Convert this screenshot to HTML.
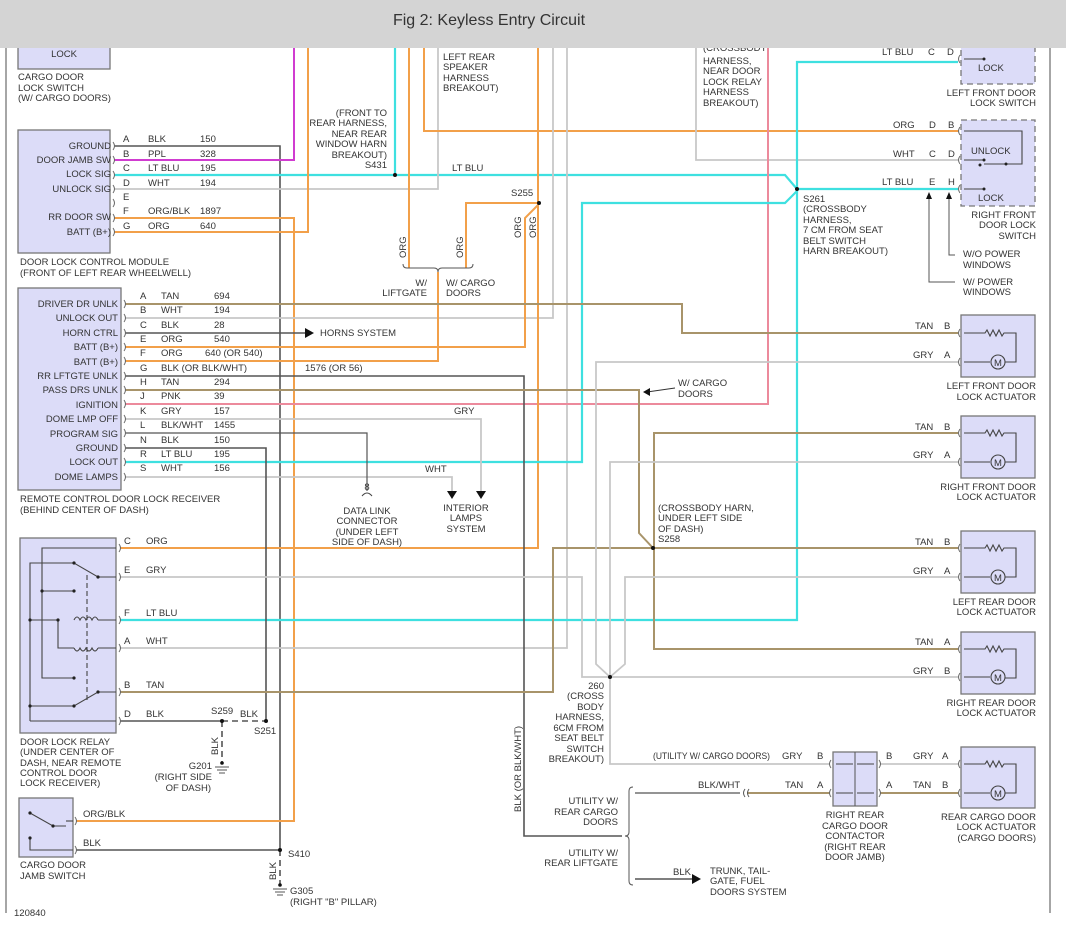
<!DOCTYPE html>
<html><head><meta charset="utf-8"><style>
html,body{margin:0;padding:0;background:#fff;}
svg{display:block;}
text{font-family:"Liberation Sans",sans-serif;font-size:9.5px;fill:#333;}
.t{font-size:16px;fill:#333;}
.bx{fill:#dcdcf8;stroke:#777;stroke-width:1.3;}
.dbx{fill:#dcdcf8;stroke:#777;stroke-width:1.3;stroke-dasharray:6 4;}
.blk{stroke:#555;fill:none;stroke-width:1.6;}
.org{stroke:#f2a04a;fill:none;stroke-width:2;}
.cy{stroke:#3ee0e0;fill:none;stroke-width:2.2;}
.gy{stroke:#c8c8c8;fill:none;stroke-width:1.8;}
.tan{stroke:#a8946a;fill:none;stroke-width:2;}
.ppl{stroke:#d03cd0;fill:none;stroke-width:2;}
.pnk{stroke:#ec8a9c;fill:none;stroke-width:2;}
.in{stroke:#444;fill:none;stroke-width:1.1;}
.r{text-anchor:end;}
.m{text-anchor:middle;}
.s{font-size:9px;}
</style></head><body>
<svg width="1066" height="928" viewBox="0 0 1066 928" xmlns="http://www.w3.org/2000/svg">
<line x1="6" y1="48" x2="6" y2="913" stroke="#777" stroke-width="1.3"/>
<line x1="1050" y1="48" x2="1050" y2="913" stroke="#777" stroke-width="1.3"/>

<!-- WIRES -->
<polyline class="blk" points="114,146 280,146 280,850"/>
<polyline class="ppl" points="114,160 294,160 294,40"/>
<polyline class="cy" points="114,175 395,175 785,175 797,189"/>
<polyline class="gy" points="114,189 438,189 438,40"/>
<polyline class="org" points="114,218 294,218 294,821 76,821"/>
<polyline class="org" points="114,232 308,232 308,40"/>
<line class="cy" x1="395" y1="40" x2="395" y2="175"/>
<line class="org" x1="409" y1="40" x2="409" y2="268"/>
<polyline class="org" points="424,40 424,131 958,131"/>
<polyline class="gy" points="553,40 553,318 125,318"/>
<polyline class="gy" points="567,40 567,648 120,648"/>
<polyline class="gy" points="696,40 696,160 958,160"/>
<polyline class="pnk" points="768,40 768,404 125,404"/>
<polyline class="org" points="538,40 538,548 120,548"/>
<polyline class="org" points="466,268 466,203 538,203"/>
<polyline class="org" points="125,347 525,347 525,218 538,205"/>
<polyline class="org" points="125,361 438,361 438,272"/>
<path d="M403,264 q0,4 4,4 h27 q4,0 4,4 q0,-4 4,-4 h27 q4,0 4,-4" fill="none" stroke="#555" stroke-width="1"/>
<polyline class="cy" points="958,62 797,62 797,620 120,620"/>
<line class="cy" x1="797" y1="189" x2="958" y2="189"/>
<polyline class="cy" points="125,462 582,462 582,203 785,203 797,191"/>
<polyline class="tan" points="125,304 682,304 682,333 958,333"/>
<line class="blk" x1="125" y1="333" x2="305" y2="333"/>
<polygon points="305,328 314,333 305,338" fill="#111"/>
<polyline class="blk" points="125,376 524,376 524,836 622,836"/>
<polyline class="tan" points="125,390 639,390 639,533 653,548"/>
<polyline class="gy" points="125,419 481,419 481,492"/>
<polygon points="476,491 486,491 481,499" fill="#111"/>
<polyline class="gy" points="125,477 452,477 452,492"/>
<polygon points="447,491 457,491 452,499" fill="#111"/>
<polyline class="blk" points="125,433 367,433 367,491" style="stroke-width:1.2"/>
<path d="M362,496 q5,-6 10,0" fill="none" stroke="#444" stroke-width="1"/>
<polyline class="blk" points="125,448 266,448 266,721"/>
<polyline class="gy" points="120,577 582,577 582,677 610,677"/>
<polyline class="tan" points="120,692 553,692 553,548 958,548"/>
<polyline class="tan" points="958,433 654,433 654,649 958,649"/>
<polyline class="gy" points="958,362 596,362 596,664 610,677"/>
<polyline class="gy" points="958,462 610,462 610,677"/>
<polyline class="gy" points="958,577 625,577 625,664 610,677"/>
<line class="gy" x1="610" y1="677" x2="958" y2="677"/>
<polyline class="gy" points="610,677 610,764 830,764"/>
<line class="gy" x1="880" y1="764" x2="958" y2="764"/>
<line class="tan" x1="747" y1="793" x2="830" y2="793"/>
<line class="tan" x1="880" y1="793" x2="958" y2="793"/>
<line class="blk" x1="635" y1="793" x2="740" y2="793" style="stroke-width:1.3"/>
<path d="M745,789 q-3,4 0,8 M749,789 q-3,4 0,8" fill="none" stroke="#555"/>
<path d="M633,787 q-4,0 -4,4 v41 q0,4 -4,4 q4,0 4,4 v41 q0,4 4,4" fill="none" stroke="#555"/>
<line class="blk" x1="635" y1="879" x2="692" y2="879"/>
<polygon points="692,874 701,879 692,884" fill="#111"/>
<polyline class="blk" points="120,721 222,721"/>
<line x1="222" y1="721" x2="266" y2="721" stroke="#555" stroke-width="1.6" stroke-dasharray="6 4"/>
<line x1="222" y1="721" x2="222" y2="762" stroke="#555" stroke-width="1.6" stroke-dasharray="6 4"/>
<line class="blk" x1="76" y1="850" x2="280" y2="850"/>
<line x1="280" y1="850" x2="280" y2="884" stroke="#555" stroke-width="1.6" stroke-dasharray="6 4"/>
<g stroke="#555" stroke-width="1"><line x1="215" y1="767" x2="229" y2="767"/><line x1="217" y1="770" x2="227" y2="770"/><line x1="219" y1="773" x2="225" y2="773"/>
<line x1="273" y1="889" x2="287" y2="889"/><line x1="275" y1="892" x2="285" y2="892"/><line x1="277" y1="895" x2="283" y2="895"/></g>
<polyline class="blk" points="929,198 929,282 955,282" style="stroke-width:1"/>
<polygon points="926,199 932,199 929,192" fill="#111"/>
<polyline class="blk" points="949,198 949,255 955,255" style="stroke-width:1"/>
<polygon points="946,199 952,199 949,192" fill="#111"/>
<line x1="675" y1="388" x2="647" y2="392" stroke="#333" stroke-width="1"/>
<polygon points="643,392 650,388 650,396" fill="#111"/>

<g fill="#111"><circle cx="395" cy="175" r="2"/><circle cx="539" cy="203" r="2"/><circle cx="797" cy="189" r="2"/>
<circle cx="653" cy="548" r="2"/><circle cx="610" cy="677" r="2"/><circle cx="222" cy="721" r="2"/><circle cx="266" cy="721" r="2"/><circle cx="280" cy="850" r="2"/><circle cx="222" cy="763" r="1.8"/><circle cx="280" cy="885" r="1.8"/></g>

<!-- pin connector marks -->
<g fill="none" stroke="#666" stroke-width="1">
<path d="M113,142 q3,4 0,8 M113,156 q3,4 0,8 M113,171 q3,4 0,8 M113,185 q3,4 0,8 M113,199 q3,4 0,8 M113,214 q3,4 0,8 M113,228 q3,4 0,8"/>
<path d="M124,300 q3,4 0,8 M124,314 q3,4 0,8 M124,329 q3,4 0,8 M124,343 q3,4 0,8 M124,357 q3,4 0,8 M124,372 q3,4 0,8 M124,386 q3,4 0,8 M124,400 q3,4 0,8 M124,415 q3,4 0,8 M124,429 q3,4 0,8 M124,444 q3,4 0,8 M124,458 q3,4 0,8 M124,473 q3,4 0,8"/>
<path d="M119,544 q3,4 0,8 M119,573 q3,4 0,8 M119,616 q3,4 0,8 M119,644 q3,4 0,8 M119,688 q3,4 0,8 M119,717 q3,4 0,8 M75,817 q3,4 0,8 M75,846 q3,4 0,8"/>
<path d="M960,55 q-3,4 0,8 M960,127 q-3,4 0,8 M960,156 q-3,4 0,8 M960,185 q-3,4 0,8 M960,329 q-3,4 0,8 M960,358 q-3,4 0,8 M960,429 q-3,4 0,8 M960,458 q-3,4 0,8 M960,544 q-3,4 0,8 M960,573 q-3,4 0,8 M960,645 q-3,4 0,8 M960,673 q-3,4 0,8 M960,760 q-3,4 0,8 M960,789 q-3,4 0,8"/>
<path d="M831,760 q-3,4 0,8 M831,789 q-3,4 0,8 M879,760 q3,4 0,8 M879,789 q3,4 0,8"/>
</g>

<!-- BOXES -->
<rect class="bx" x="18" y="40" width="92" height="29"/>
<text class="m" x="64" y="57">LOCK</text>
<rect class="bx" x="18" y="130" width="92" height="123"/>
<rect class="bx" x="18" y="288" width="103" height="202"/>
<rect class="bx" x="20" y="538" width="96" height="195"/>
<rect class="bx" x="19" y="798" width="54" height="59"/>
<rect class="dbx" x="961" y="40" width="74" height="44"/>
<rect class="dbx" x="961" y="120" width="74" height="86"/>
<rect class="bx" x="961" y="315" width="74" height="62"/>
<rect class="bx" x="961" y="416" width="74" height="62"/>
<rect class="bx" x="961" y="531" width="74" height="62"/>
<rect class="bx" x="961" y="632" width="74" height="62"/>
<rect class="bx" x="961" y="747" width="74" height="61"/>
<rect class="bx" x="833" y="752" width="44" height="54"/>
<line x1="855" y1="752" x2="855" y2="806" stroke="#555"/>

<g class="in">
<polyline points="116,548 42,548 42,678 74,678"/>
<line x1="42" y1="591" x2="74" y2="591"/>
<polyline points="30,721 30,563 74,563 98,577 116,577"/>
<polyline points="30,620 58,620 58,648 74,648"/>
<line x1="98" y1="620" x2="116" y2="620"/><line x1="98" y1="648" x2="116" y2="648"/>
<path d="M74,620 q3,-6 6,0 q3,-6 6,0 q3,-6 6,0 q3,-6 6,0 M74,648 q3,6 6,0 q3,6 6,0 q3,6 6,0 q3,6 6,0"/>
<polyline points="30,706 74,706 98,692 116,692"/>
<line x1="30" y1="721" x2="116" y2="721"/>
<line x1="87" y1="575" x2="87" y2="702" stroke-dasharray="5 3"/>
<polyline points="30,813 53,826 66,826"/><line x1="66" y1="821" x2="73" y2="821"/>
<polyline points="30,838 30,850 73,850"/>
</g>
<g fill="#222"><circle cx="74" cy="563" r="1.6"/><circle cx="74" cy="591" r="1.6"/><circle cx="42" cy="591" r="1.6"/><circle cx="74" cy="678" r="1.6"/><circle cx="74" cy="706" r="1.6"/><circle cx="98" cy="577" r="1.6"/><circle cx="98" cy="692" r="1.6"/><circle cx="30" cy="620" r="1.6"/><circle cx="58" cy="620" r="1.6"/><circle cx="30" cy="706" r="1.6"/><circle cx="30" cy="813" r="1.6"/><circle cx="53" cy="826" r="1.6"/><circle cx="30" cy="838" r="1.6"/></g>

<g class="in">
<polyline points="964,59 984,59"/>
<polyline points="964,131 1022,131 1022,164 984,164"/><line x1="964" y1="160" x2="984" y2="160"/><line x1="964" y1="189" x2="984" y2="189"/>
</g>
<g fill="#222"><circle cx="984" cy="59" r="1.5"/><circle cx="984" cy="160" r="1.5"/><circle cx="984" cy="189" r="1.5"/><circle cx="980" cy="165" r="1.5"/><circle cx="1006" cy="164" r="1.5"/></g>
<text x="978" y="71">LOCK</text><text x="971" y="154">UNLOCK</text><text x="978" y="201">LOCK</text>

<g class="in">
<path d="M964,333 h21 l2,-3 l3,6 l3,-6 l3,6 l3,-6 l3,6 l2,-3 h12 v29 h-14 M964,362 h26"/>
<path d="M964,433 h21 l2,-3 l3,6 l3,-6 l3,6 l3,-6 l3,6 l2,-3 h12 v29 h-14 M964,462 h26"/>
<path d="M964,548 h21 l2,-3 l3,6 l3,-6 l3,6 l3,-6 l3,6 l2,-3 h12 v29 h-14 M964,577 h26"/>
<path d="M964,649 h21 l2,-3 l3,6 l3,-6 l3,6 l3,-6 l3,6 l2,-3 h12 v29 h-14 M964,677 h26"/>
<path d="M964,764 h21 l2,-3 l3,6 l3,-6 l3,6 l3,-6 l3,6 l2,-3 h12 v29 h-14 M964,793 h26"/>
<circle cx="998" cy="362" r="7" fill="#dcdcf8"/><circle cx="998" cy="462" r="7" fill="#dcdcf8"/><circle cx="998" cy="577" r="7" fill="#dcdcf8"/><circle cx="998" cy="677" r="7" fill="#dcdcf8"/><circle cx="998" cy="793" r="7" fill="#dcdcf8"/>
<path d="M836,764 h17 M857,764 h17 M836,793 h17 M857,793 h17"/>
</g>
<g style="font-size:11px" class="m"><text x="998" y="366">M</text><text x="998" y="466">M</text><text x="998" y="581">M</text><text x="998" y="681">M</text><text x="998" y="797">M</text></g>

<!-- LABELS -->
<text x="18" y="80">CARGO DOOR</text><text x="18" y="91">LOCK SWITCH</text><text x="18" y="101">(W/ CARGO DOORS)</text>
<g class="r s"><text x="111" y="149">GROUND</text><text x="111" y="163">DOOR JAMB SW</text><text x="111" y="177">LOCK SIG</text><text x="111" y="192">UNLOCK SIG</text><text x="111" y="220">RR DOOR SW</text><text x="111" y="235">BATT (B+)</text></g>
<text x="123" y="142">A</text><text x="123" y="157">B</text><text x="123" y="171">C</text><text x="123" y="186">D</text><text x="123" y="200">E</text><text x="123" y="214">F</text><text x="123" y="229">G</text>
<text x="148" y="142">BLK</text><text x="148" y="157">PPL</text><text x="148" y="171">LT BLU</text><text x="148" y="186">WHT</text><text x="148" y="214">ORG/BLK</text><text x="148" y="229">ORG</text>
<text x="200" y="142">150</text><text x="200" y="157">328</text><text x="200" y="171">195</text><text x="200" y="186">194</text><text x="200" y="214">1897</text><text x="200" y="229">640</text>
<text x="20" y="265">DOOR LOCK CONTROL MODULE</text><text x="20" y="276">(FRONT OF LEFT REAR WHEELWELL)</text>
<g class="r s"><text x="118" y="307">DRIVER DR UNLK</text><text x="118" y="321">UNLOCK OUT</text><text x="118" y="336">HORN CTRL</text><text x="118" y="350">BATT (B+)</text><text x="118" y="365">BATT (B+)</text><text x="118" y="379">RR LFTGTE UNLK</text><text x="118" y="393">PASS DRS UNLK</text><text x="118" y="408">IGNITION</text><text x="118" y="422">DOME LMP OFF</text><text x="118" y="437">PROGRAM SIG</text><text x="118" y="451">GROUND</text><text x="118" y="465">LOCK OUT</text><text x="118" y="480">DOME LAMPS</text></g>
<g><text x="140" y="299">A</text><text x="140" y="313">B</text><text x="140" y="328">C</text><text x="140" y="342">E</text><text x="140" y="356">F</text><text x="140" y="371">G</text><text x="140" y="385">H</text><text x="140" y="399">J</text><text x="140" y="414">K</text><text x="140" y="428">L</text><text x="140" y="443">N</text><text x="140" y="457">R</text><text x="140" y="471">S</text></g>
<g><text x="161" y="299">TAN</text><text x="161" y="313">WHT</text><text x="161" y="328">BLK</text><text x="161" y="342">ORG</text><text x="161" y="356">ORG</text><text x="161" y="371">BLK (OR BLK/WHT)</text><text x="161" y="385">TAN</text><text x="161" y="399">PNK</text><text x="161" y="414">GRY</text><text x="161" y="428">BLK/WHT</text><text x="161" y="443">BLK</text><text x="161" y="457">LT BLU</text><text x="161" y="471">WHT</text></g>
<g><text x="214" y="299">694</text><text x="214" y="313">194</text><text x="214" y="328">28</text><text x="214" y="342">540</text><text x="205" y="356">640 (OR 540)</text><text x="214" y="385">294</text><text x="214" y="399">39</text><text x="214" y="414">157</text><text x="214" y="428">1455</text><text x="214" y="443">150</text><text x="214" y="457">195</text><text x="214" y="471">156</text></g>
<text x="305" y="371">1576 (OR 56)</text>
<text x="320" y="336">HORNS SYSTEM</text>
<text x="454" y="414">GRY</text><text x="425" y="472">WHT</text>
<text class="m" x="367" y="490">8</text>
<g class="m"><text x="367" y="514">DATA LINK</text><text x="367" y="524">CONNECTOR</text><text x="367" y="535">(UNDER LEFT</text><text x="367" y="545">SIDE OF DASH)</text>
<text x="466" y="511">INTERIOR</text><text x="466" y="521">LAMPS</text><text x="466" y="532">SYSTEM</text></g>
<text x="20" y="502">REMOTE CONTROL DOOR LOCK RECEIVER</text><text x="20" y="513">(BEHIND CENTER OF DASH)</text>
<text x="124" y="544">C</text><text x="146" y="544">ORG</text><text x="124" y="573">E</text><text x="146" y="573">GRY</text><text x="124" y="616">F</text><text x="146" y="616">LT BLU</text><text x="124" y="644">A</text><text x="146" y="644">WHT</text><text x="124" y="688">B</text><text x="146" y="688">TAN</text><text x="124" y="717">D</text><text x="146" y="717">BLK</text>
<text x="211" y="714">S259</text><text x="240" y="717">BLK</text><text x="254" y="734">S251</text>
<text transform="translate(218,755) rotate(-90)">BLK</text>
<text class="r" x="212" y="769">G201</text><text class="r" x="212" y="780">(RIGHT SIDE</text><text class="r" x="211" y="791">OF DASH)</text>
<text x="20" y="745">DOOR LOCK RELAY</text><text x="20" y="755">(UNDER CENTER OF</text><text x="20" y="766">DASH, NEAR REMOTE</text><text x="20" y="776">CONTROL DOOR</text><text x="20" y="786">LOCK RECEIVER)</text>
<text x="83" y="817">ORG/BLK</text><text x="83" y="846">BLK</text>
<text x="20" y="868">CARGO DOOR</text><text x="20" y="879">JAMB SWITCH</text>
<text x="288" y="857">S410</text><text transform="translate(276,880) rotate(-90)">BLK</text>
<text x="290" y="894">G305</text><text x="290" y="905">(RIGHT "B" PILLAR)</text>
<text x="14" y="916">120840</text>
<text x="443" y="60">LEFT REAR</text><text x="443" y="70">SPEAKER</text><text x="443" y="81">HARNESS</text><text x="443" y="91">BREAKOUT)</text>
<g class="r"><text x="387" y="116">(FRONT TO</text><text x="387" y="126">REAR HARNESS,</text><text x="387" y="137">NEAR REAR</text><text x="387" y="147">WINDOW HARN</text><text x="387" y="158">BREAKOUT)</text><text x="387" y="168">S431</text></g>
<text x="452" y="171">LT BLU</text>
<text x="511" y="196">S255</text>
<text transform="translate(406,258) rotate(-90)">ORG</text><text transform="translate(463,258) rotate(-90)">ORG</text><text transform="translate(521,238) rotate(-90)">ORG</text><text transform="translate(536,238) rotate(-90)">ORG</text>
<text class="r" x="427" y="286">W/</text><text class="r" x="427" y="296">LIFTGATE</text><text x="446" y="286">W/ CARGO</text><text x="446" y="296">DOORS</text>
<text x="703" y="51">(CROSSBODY</text><text x="703" y="64">HARNESS,</text><text x="703" y="74">NEAR DOOR</text><text x="703" y="85">LOCK RELAY</text><text x="703" y="95">HARNESS</text><text x="703" y="106">BREAKOUT)</text>
<text x="803" y="202">S261</text><text x="803" y="212">(CROSSBODY</text><text x="803" y="223">HARNESS,</text><text x="803" y="233">7 CM FROM SEAT</text><text x="803" y="244">BELT SWITCH</text><text x="803" y="254">HARN BREAKOUT)</text>
<text x="678" y="386">W/ CARGO</text><text x="678" y="397">DOORS</text>
<text x="658" y="511">(CROSSBODY HARN,</text><text x="658" y="521">UNDER LEFT SIDE</text><text x="658" y="532">OF DASH)</text><text x="658" y="542">S258</text>
<g class="r"><text x="604" y="689">260</text><text x="604" y="699">(CROSS</text><text x="604" y="710">BODY</text><text x="604" y="720">HARNESS,</text><text x="604" y="731">6CM FROM</text><text x="604" y="741">SEAT BELT</text><text x="604" y="752">SWITCH</text><text x="604" y="762">BREAKOUT)</text></g>
<text transform="translate(521,812) rotate(-90)">BLK (OR BLK/WHT)</text>
<text x="653" y="759" textLength="117" lengthAdjust="spacingAndGlyphs">(UTILITY W/ CARGO DOORS)</text><text x="782" y="759">GRY</text><text x="817" y="759">B</text>
<text x="698" y="788">BLK/WHT</text><text x="785" y="788">TAN</text><text x="817" y="788">A</text>
<text x="886" y="759">B</text><text x="913" y="759">GRY</text><text x="942" y="759">A</text><text x="886" y="788">A</text><text x="913" y="788">TAN</text><text x="942" y="788">B</text>
<g class="r"><text x="618" y="804">UTILITY W/</text><text x="618" y="815">REAR CARGO</text><text x="618" y="825">DOORS</text><text x="618" y="856">UTILITY W/</text><text x="618" y="866">REAR LIFTGATE</text></g>
<text x="673" y="875">BLK</text><text x="710" y="874">TRUNK, TAIL-</text><text x="710" y="884">GATE, FUEL</text><text x="710" y="895">DOORS SYSTEM</text>
<g class="m"><text x="855" y="818">RIGHT REAR</text><text x="855" y="829">CARGO DOOR</text><text x="855" y="839">CONTACTOR</text><text x="855" y="850">(RIGHT REAR</text><text x="855" y="860">DOOR JAMB)</text></g>
<text x="882" y="55">LT BLU</text><text x="928" y="55">C</text><text x="947" y="55">D</text>
<text x="893" y="128">ORG</text><text x="929" y="128">D</text><text x="948" y="128">B</text>
<text x="893" y="157">WHT</text><text x="929" y="157">C</text><text x="948" y="157">D</text>
<text x="882" y="185">LT BLU</text><text x="929" y="185">E</text><text x="948" y="185">H</text>
<text x="963" y="257">W/O POWER</text><text x="963" y="268">WINDOWS</text><text x="963" y="285">W/ POWER</text><text x="963" y="295">WINDOWS</text>
<g><text x="915" y="329">TAN</text><text x="944" y="329">B</text><text x="913" y="358">GRY</text><text x="944" y="358">A</text>
<text x="915" y="430">TAN</text><text x="944" y="430">B</text><text x="913" y="458">GRY</text><text x="944" y="458">A</text>
<text x="915" y="545">TAN</text><text x="944" y="545">B</text><text x="913" y="574">GRY</text><text x="944" y="574">A</text>
<text x="915" y="645">TAN</text><text x="944" y="645">A</text><text x="913" y="674">GRY</text><text x="944" y="674">B</text></g>
<g class="r"><text x="1036" y="96">LEFT FRONT DOOR</text><text x="1036" y="106">LOCK SWITCH</text>
<text x="1036" y="218">RIGHT FRONT</text><text x="1036" y="228">DOOR LOCK</text><text x="1036" y="239">SWITCH</text>
<text x="1036" y="389">LEFT FRONT DOOR</text><text x="1036" y="400">LOCK ACTUATOR</text>
<text x="1036" y="490">RIGHT FRONT DOOR</text><text x="1036" y="500">LOCK ACTUATOR</text>
<text x="1036" y="605">LEFT REAR DOOR</text><text x="1036" y="615">LOCK ACTUATOR</text>
<text x="1036" y="706">RIGHT REAR DOOR</text><text x="1036" y="716">LOCK ACTUATOR</text>
<text x="1036" y="820">REAR CARGO DOOR</text><text x="1036" y="830">LOCK ACTUATOR</text><text x="1036" y="841">(CARGO DOORS)</text></g>

<!-- header on top -->
<rect x="0" y="0" width="1066" height="48" fill="#d4d4d4"/>
<text class="t m" x="489" y="25">Fig 2: Keyless Entry Circuit</text>
</svg>
</body></html>
